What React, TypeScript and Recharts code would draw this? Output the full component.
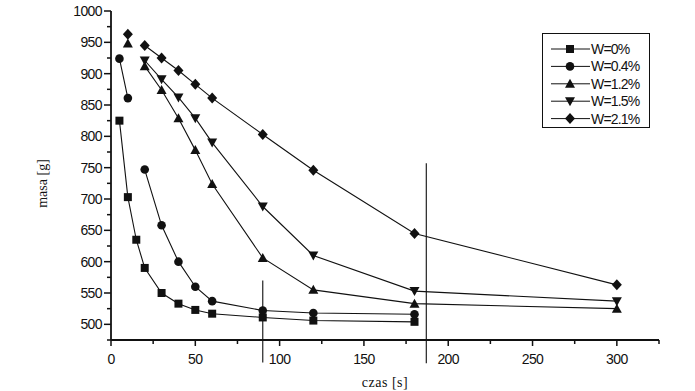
import React from 'react';
import { LineChart, Line, XAxis, YAxis, ReferenceLine, Legend } from 'recharts';

// ---- data ----
const times = [5, 10, 15, 20, 30, 40, 50, 60, 90, 120, 180, 300];
const w0 = [825, 703, 635, 590, 550, 533, 523, 517, 511, 506, 504, null];
const w04 = [924, 861, null, 747, 658, 600, 560, 537, 522, 518, 516, null];
const w12 = [null, 948, null, 912, 874, 829, 778, 724, 606, 555, 533, 525];
const w15 = [null, null, null, 921, 891, 862, 829, 790, 688, 610, 553, 537];
const w21 = [null, 963, null, 945, 925, 905, 883, 861, 803, 746, 645, 563];

const seriesNames = ['W=0%', 'W=0.4%', 'W=1.2%', 'W=1.5%', 'W=2.1%'];
const seriesKeys = ['w0', 'w04', 'w12', 'w15', 'w21'];
const seriesShapes = ['square', 'circle', 'up', 'down', 'diamond'];

const xTicks = [0, 25, 50, 75, 100, 125, 150, 175, 200, 225, 250, 275, 300, 325];
const yTicks = [475, 500, 525, 550, 575, 600, 625, 650, 675, 700, 725, 750, 775, 800, 825, 850, 875, 900, 925, 950, 975, 1000];

const refLineA = [{ x: 90, y: 439 }, { x: 90, y: 570 }];
const refLineB = [{ x: 187, y: 438 }, { x: 187, y: 757 }];

const rows = times.map((t, i) => ({
  t,
  w0: w0[i],
  w04: w04[i],
  w12: w12[i],
  w15: w15[i],
  w21: w21[i],
}));

const INK = '#111';
const TICK_FONT = '"Liberation Sans", Arial, sans-serif';
const LABEL_FONT = '"Liberation Serif", "Times New Roman", serif';

function Marker({ shape, cx, cy }: { shape: string; cx: number; cy: number }) {
  switch (shape) {
    case 'square':
      return <rect x={cx - 4} y={cy - 4} width={8} height={8} fill={INK} />;
    case 'circle':
      return <circle cx={cx} cy={cy} r={4.3} fill={INK} />;
    case 'up':
      return <polygon points={`${cx},${cy - 5} ${cx + 5},${cy + 4} ${cx - 5},${cy + 4}`} fill={INK} />;
    case 'down':
      return <polygon points={`${cx - 5},${cy - 4} ${cx + 5},${cy - 4} ${cx},${cy + 5}`} fill={INK} />;
    default:
      return <polygon points={`${cx},${cy - 5.5} ${cx + 5},${cy} ${cx},${cy + 5.5} ${cx - 5},${cy}`} fill={INK} />;
  }
}

const makeDot = (shape: string) => (props: any) => {
  const { cx, cy, index } = props;
  if (cx == null || cy == null || props.value == null || (Array.isArray(props.value) && props.value[1] == null)) {
    return <g key={`d-${shape}-${index}`} />;
  }
  return (
    <g key={`d-${shape}-${index}`}>
      <Marker shape={shape} cx={cx} cy={cy} />
    </g>
  );
};

const YTick = (props: any) => {
  const { x, y, payload } = props;
  const v = payload.value;
  const major = v % 50 === 0;
  return (
    <g>
      <line x1={x - (major ? 7 : 4)} x2={x} y1={y} y2={y} stroke={INK} strokeWidth={1.5} />
      {major && (
        <text x={x - 9} y={y} dy={5} textAnchor="end" fontFamily={TICK_FONT} fontSize={14} letterSpacing={-0.6} fill={INK}>
          {v}
        </text>
      )}
    </g>
  );
};

const XTick = (props: any) => {
  const { x, y, payload } = props;
  const v = payload.value;
  const major = v % 50 === 0;
  return (
    <g>
      <line x1={x} x2={x} y1={y} y2={y + (major ? 6 : 4)} stroke={INK} strokeWidth={1.5} />
      {major && (
        <text x={x} y={y + 24} textAnchor="middle" fontFamily={TICK_FONT} fontSize={14} letterSpacing={-0.6} fill={INK}>
          {v}
        </text>
      )}
    </g>
  );
};

const YLabel = (props: any) => {
  const vb = props.viewBox || {};
  const x = vb.x - 4;
  const y = vb.y + vb.height / 2 + 8;
  return (
    <text x={x} y={y} transform={`rotate(-90 ${x} ${y})`} textAnchor="middle" fontFamily={LABEL_FONT} fontSize={14} fill={INK}>
      masa [g]
    </text>
  );
};

const XLabel = (props: any) => {
  const vb = props.viewBox || {};
  const x = vb.x + vb.width / 2;
  const y = vb.y + 47;
  return (
    <text x={x} y={y} textAnchor="middle" fontFamily={LABEL_FONT} fontSize={14} letterSpacing={0.5} fill={INK}>
      czas [s]
    </text>
  );
};

const LegendBox = () => (
  <svg width={108} height={95} style={{ display: 'block' }}>
    <rect x={0.5} y={0.5} width={107} height={94} fill="#fff" stroke={INK} strokeWidth={1} />
    {seriesNames.map((n, i) => {
      const cy = 16 + i * 17.4;
      return (
        <g key={n}>
          <line x1={9} x2={48} y1={cy} y2={cy} stroke={INK} strokeWidth={1} />
          <Marker shape={seriesShapes[i]} cx={28} cy={cy} />
          <text x={49} y={cy + 5} fontFamily={TICK_FONT} fontSize={14} letterSpacing={-0.8} fill={INK}>
            {n}
          </text>
        </g>
      );
    })}
  </svg>
);

export default function App() {
  return (
    <div style={{ position: 'absolute', left: 0, top: 0, width: 695, height: 391, background: '#fff' }}>
      <LineChart width={695} height={391} data={rows} margin={{ top: 11, right: 36, left: 51, bottom: 11 }}>
        <XAxis
          dataKey="t"
          type="number"
          domain={[0, 325]}
          ticks={xTicks}
          interval={0}
          tickSize={0}
          tickMargin={0}
          tickLine={false}
          tick={<XTick />}
          axisLine={{ stroke: INK, strokeWidth: 1.8 }}
          height={40}
          allowDataOverflow
          label={<XLabel />}
        />
        <YAxis
          type="number"
          domain={[475, 1000]}
          ticks={yTicks}
          interval={0}
          tickSize={0}
          tickMargin={0}
          tickLine={false}
          tick={<YTick />}
          axisLine={{ stroke: INK, strokeWidth: 1.8 }}
          width={60}
          allowDataOverflow
          label={<YLabel />}
        />
        <ReferenceLine segment={refLineA} stroke="#222" strokeWidth={1.2} ifOverflow="visible" />
        <ReferenceLine segment={refLineB} stroke="#222" strokeWidth={1.2} ifOverflow="visible" />
        {seriesKeys.map((k, i) => (
          <Line
            key={k}
            dataKey={k}
            name={seriesNames[i]}
            type="linear"
            stroke={INK}
            strokeWidth={1.1}
            dot={makeDot(seriesShapes[i])}
            activeDot={false}
            connectNulls={false}
            isAnimationActive={false}
          />
        ))}
        <Legend
          layout="vertical"
          align="center"
          verticalAlign="middle"
          content={<LegendBox />}
          wrapperStyle={{ left: 542, top: 33, width: 108, height: 95, bottom: 'auto', right: 'auto' }}
        />
      </LineChart>
    </div>
  );
}
